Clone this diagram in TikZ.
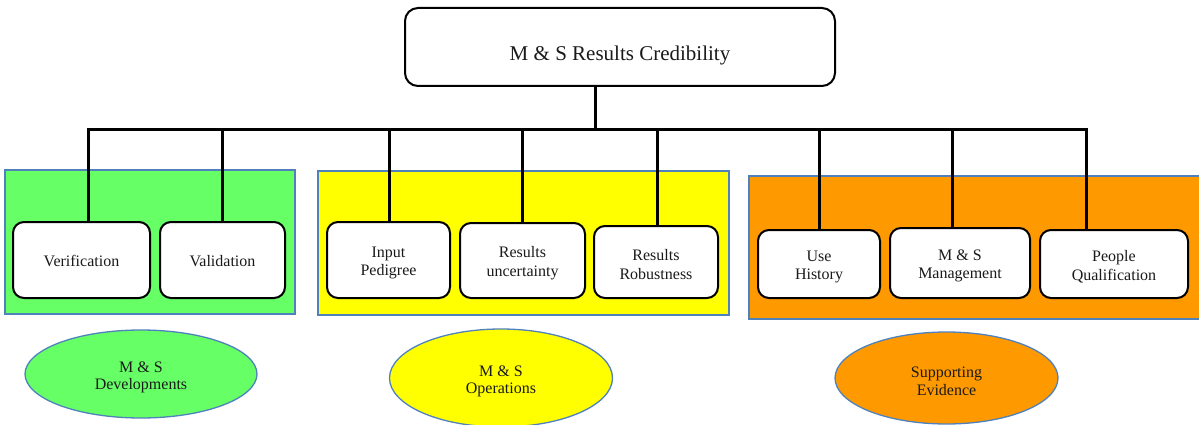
\documentclass[tikz,border=0pt]{standalone}
\usepackage{fontspec}
\setmainfont{Liberation Serif}
\usetikzlibrary{shapes.geometric}
\definecolor{gfill}{HTML}{66FF66}
\definecolor{yfill}{HTML}{FFFF00}
\definecolor{ofill}{HTML}{FF9900}
\definecolor{edgeblue}{RGB}{79,129,189}
\definecolor{txt}{HTML}{1A1A1A}
\tikzset{
  panel/.style={draw=edgeblue, line width=1.3pt},
  item/.style={draw=black, fill=white, rounded corners=11pt, line width=2pt,
    inner sep=0pt, align=center, text=txt, text height=35pt,
    font=\fontsize{16}{18.5}\selectfont},
  single/.style={text height=13pt},
  title/.style={draw=black, fill=white, rounded corners=13pt, line width=2pt,
    inner sep=0pt, text=txt, text height=28pt, text depth=0pt,
    font=\fontsize{21}{25}\selectfont},
  group/.style={ellipse, draw=edgeblue, line width=1.3pt, inner sep=0pt,
    align=center, text=txt, text height=34.5pt,
    font=\fontsize{16}{17.5}\selectfont},
  link/.style={draw=black, line width=3pt}
}
\begin{document}
\begin{tikzpicture}[x=1pt, y=-1pt]
\useasboundingbox (0,0) rectangle (1199,425);

% coloured panels behind the leaf boxes
\filldraw[panel, fill=gfill] (5,170) rectangle (295,314);
\filldraw[panel, fill=yfill] (318,171) rectangle (729,315);
\filldraw[panel, fill=ofill] (749,176) rectangle (1205,319);

% root
\node[title, minimum width=430pt, minimum height=78pt] (root) at (620,47) {M \& S Results Credibility};

% leaves
\node[item, single, minimum width=137pt, minimum height=76pt] (verif) at (81.5,260) {Verification};
\node[item, single, minimum width=125pt, minimum height=76pt] (valid) at (222.5,260) {Validation};
\node[item, minimum width=123pt, minimum height=76pt] (input) at (388.5,260) {Input\\Pedigree};
\node[item, minimum width=125pt, minimum height=75pt] (uncert) at (522.5,260.5) {Results\\uncertainty};
\node[item, minimum width=124pt, minimum height=72pt] (robust) at (656,262) {Results\\Robustness};
\node[item, minimum width=122pt, minimum height=68pt] (usehist) at (819,264) {Use\\History};
\node[item, minimum width=140pt, minimum height=70pt] (mgmt) at (960,263) {M \& S\\Management};
\node[item, minimum width=148pt, minimum height=68pt] (people) at (1114,264) {People\\Qualification};

% group labels
\node[group, fill=gfill, minimum width=232pt, minimum height=88pt] (dev) at (141,374) {M \& S\\Developments};
\node[group, fill=yfill, minimum width=223pt, minimum height=98pt] (ops) at (501,378) {M \& S\\Operations};
\node[group, fill=ofill, minimum width=223pt, minimum height=92pt] (evid) at (946.5,378) {Supporting\\Evidence};

% tree connectors
\coordinate (hub) at (595,130);
\coordinate (b1) at (88,130);
\coordinate (b2) at (222,130);
\coordinate (b3) at (389,130);
\coordinate (b4) at (522,130);
\coordinate (b5) at (657,130);
\coordinate (b6) at (819,130);
\coordinate (b7) at (952,130);
\coordinate (b8) at (1086,130);
\draw[link] (root.south -| hub) -- (hub);
\draw[link, line cap=rect] (b1) -- (b8);
\draw[link] (b1) -- (b1 |- verif.north);
\draw[link] (b2) -- (b2 |- valid.north);
\draw[link] (b3) -- (b3 |- input.north);
\draw[link] (b4) -- (b4 |- uncert.north);
\draw[link] (b5) -- (b5 |- robust.north);
\draw[link] (b6) -- (b6 |- usehist.north);
\draw[link] (b7) -- (b7 |- mgmt.north);
\draw[link] (b8) -- (b8 |- people.north);
\end{tikzpicture}
\end{document}
